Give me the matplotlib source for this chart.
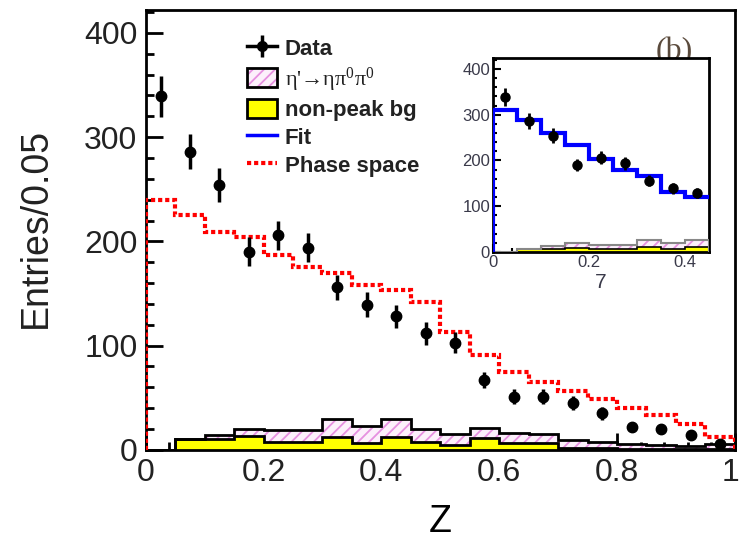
import numpy as np
import matplotlib as mpl; mpl.use("Agg")
import matplotlib.pyplot as plt
import matplotlib.transforms as mtrans
from matplotlib.lines import Line2D
from matplotlib.patches import Patch
from matplotlib.legend_handler import HandlerTuple
from matplotlib.ticker import MultipleLocator

mpl.rcParams.update({"font.family": ["Liberation Sans", "DejaVu Sans"],
                     "hatch.linewidth": 1.3,
                     "mathtext.fontset": "custom", "mathtext.rm": "Liberation Serif",
                     "mathtext.it": "Liberation Serif:italic"})

# ---- data (bins of 0.05 in Z) ----
edges = np.linspace(0, 1, 21)
data_y   = [339, 286, 254, 190, 206, 194, 156, 139, 128, 112, 103, 67, 51, 51, 45, 35, 22, 20, 14, 6]
data_err = [20, 17, 16, 14, 14, 14, 12, 12, 11, 11, 10, 8, 7, 7, 7, 6, 5, 5, 4, 2]
phase    = [240, 225, 209, 204, 187, 175, 170, 158, 153, 142, 113, 91, 75, 65, 56, 49, 40, 33, 25, 12]
nonpeak  = [0, 10, 10, 13, 7.5, 7.5, 12, 7, 12, 7.5, 5, 11, 7, 7, 2, 1.5, 0.5, 0.5, 0.5, 1]
etap     = [0, 0, 4, 7, 11.5, 11.5, 18, 16, 18, 12.5, 10, 10, 9, 8, 7, 6.5, 5.5, 4.5, 3.5, 5]

# inset (zoom on Z < 0.45)
ins_edges = edges[:10]
ins_fit      = [310, 288, 259, 234, 204, 179, 166, 131, 120]
ins_nonpeak  = [0, 7, 7, 9, 7, 7, 11, 7, 11]
ins_etap     = [0, 0, 5, 11, 8, 8, 15, 13, 15]

PINK_FC = "#fcf0fb"; PINK_HC = "#e690e0"; YEL = "#ffff00"
TXT = "#222222"

centers = 0.5 * (edges[:-1] + edges[1:])
nonpeak = np.array(nonpeak); total = nonpeak + np.array(etap)
ins_nonpeak = np.array(ins_nonpeak); ins_total = ins_nonpeak + np.array(ins_etap)

fig = plt.figure(figsize=(7.4, 5.52), dpi=100)
ax = fig.add_axes([0.197, 0.185, 0.796, 0.797])

# stacked backgrounds
ax.stairs(nonpeak, edges, fill=True, facecolor=YEL, edgecolor="none", zorder=2)
ax.stairs(total, edges, baseline=nonpeak, fill=True, facecolor=PINK_FC, edgecolor=PINK_HC,
          hatch="///", lw=0, zorder=2)
ax.stairs(nonpeak, edges, color="black", lw=2, zorder=3)
ax.stairs(total, edges, color="black", lw=2, zorder=3)
# phase space
ax.stairs(phase, edges, color="red", lw=3, ls=(0, (1.0, 0.7)), zorder=4)
# data
ax.errorbar(centers, data_y, yerr=data_err, fmt="o", color="black", ms=7.5,
            elinewidth=2.5, capsize=0, zorder=5)

ax.set_xlim(0, 1); ax.set_ylim(0, 422)
ax.xaxis.set_minor_locator(MultipleLocator(0.04))
ax.yaxis.set_major_locator(MultipleLocator(100)); ax.yaxis.set_minor_locator(MultipleLocator(20))
ax.set_xticks([0, 0.2, 0.4, 0.6, 0.8, 1.0], ["0", "0.2", "0.4", "0.6", "0.8", "1"])
ax.tick_params(which="both", direction="in", top=False, right=False, width=2,
               labelsize=23, labelcolor=TXT, pad=6)
ax.tick_params(which="major", length=12)
ax.tick_params(which="minor", length=6)
for s in ax.spines.values(): s.set_linewidth(2)
last = ax.get_xticklabels()[-1]
last.set_ha("right")
last.set_transform(last.get_transform() + mtrans.ScaledTranslation(5/100, 0, fig.dpi_scale_trans))

ax.set_xlabel("Z", fontsize=27, color="black", va="center")
ax.xaxis.set_label_coords(0.5, -0.164)
ax.set_ylabel("Entries/0.05", fontsize=27, color=TXT, va="center")
ax.yaxis.set_label_coords(-0.187, 0.505)

ax.text(0.898, 382, "(b)", fontsize=23, color="#5a4a3c", ha="center", va="center",
        family=["Liberation Serif", "DejaVu Serif"], zorder=1)

# legend
h_data = (Line2D([], [], color="black", lw=2.5, marker="o", ms=7),
          Line2D([], [], color="black", ls="none", marker="|", ms=16, mew=2.5))
h_etap = (Patch(facecolor=PINK_FC, edgecolor=PINK_HC, hatch="///", lw=0),
          Patch(facecolor="none", edgecolor="black", lw=2))
h_np = Patch(facecolor=YEL, edgecolor="black", lw=2)
h_fit = Line2D([], [], color="blue", lw=2.5)
h_ps = Line2D([], [], color="red", lw=3, ls=(0, (1.0, 0.7)))
leg = ax.legend([h_data, h_etap, h_np, h_fit, h_ps],
                ["Data", r"η'→ηπ$^\mathrm{0}$π$^\mathrm{0}$", "non-peak bg", "Fit", "Phase space"],
                handler_map={tuple: HandlerTuple(ndivide=1, pad=0)},
                loc="upper left", bbox_to_anchor=(0.172, 0.937), frameon=False,
                borderpad=0, borderaxespad=0, handlelength=1.35, handleheight=0.9,
                handletextpad=0.35, labelspacing=0.26,
                prop={"size": 16, "weight": "bold"})
for t in leg.get_texts(): t.set_color(TXT)
leg.get_texts()[1].set_fontproperties(mpl.font_manager.FontProperties(
    family=["Liberation Serif", "DejaVu Serif"], size=16))
leg.set_zorder(6)

# ---- inset ----
axi = fig.add_axes([0.666, 0.5435, 0.292, 0.3515])
axi.set_facecolor("white")
axi.stairs(ins_nonpeak, ins_edges, fill=True, facecolor=YEL, edgecolor="none", zorder=2)
axi.stairs(ins_total, ins_edges, baseline=ins_nonpeak, fill=True, facecolor=PINK_FC,
           edgecolor=PINK_HC, hatch="///", lw=0, zorder=2)
axi.stairs(ins_nonpeak, ins_edges, color="black", lw=1.2, zorder=3)
axi.stairs(ins_total, ins_edges, color="#888888", lw=1.5, zorder=3)
axi.stairs(ins_fit, ins_edges, baseline=None, color="blue", lw=3, zorder=4)
axi.vlines(ins_edges[0], 0, ins_fit[0], color="blue", lw=3, zorder=4)
axi.errorbar(centers[:9], data_y[:9], yerr=data_err[:9], fmt="o", color="black", ms=6.5,
             elinewidth=2, capsize=0, zorder=5)
axi.set_xlim(0, 0.45); axi.set_ylim(0, 424)
axi.set_xticks([0, 0.2, 0.4], ["0", "0.2", "0.4"])
axi.xaxis.set_minor_locator(MultipleLocator(0.04))
axi.yaxis.set_major_locator(MultipleLocator(100)); axi.yaxis.set_minor_locator(MultipleLocator(20))
axi.tick_params(which="both", direction="in", top=False, right=False, width=1.5,
                labelsize=12, labelcolor="#3a3a4a", pad=2)
axi.tick_params(which="major", length=6)
axi.tick_params(which="minor", length=3)
for s in axi.spines.values(): s.set_linewidth(2)
axi.set_xlabel("7", fontsize=15, color="#3a3a4a", labelpad=2)

fig.savefig("out.png", dpi=100)
